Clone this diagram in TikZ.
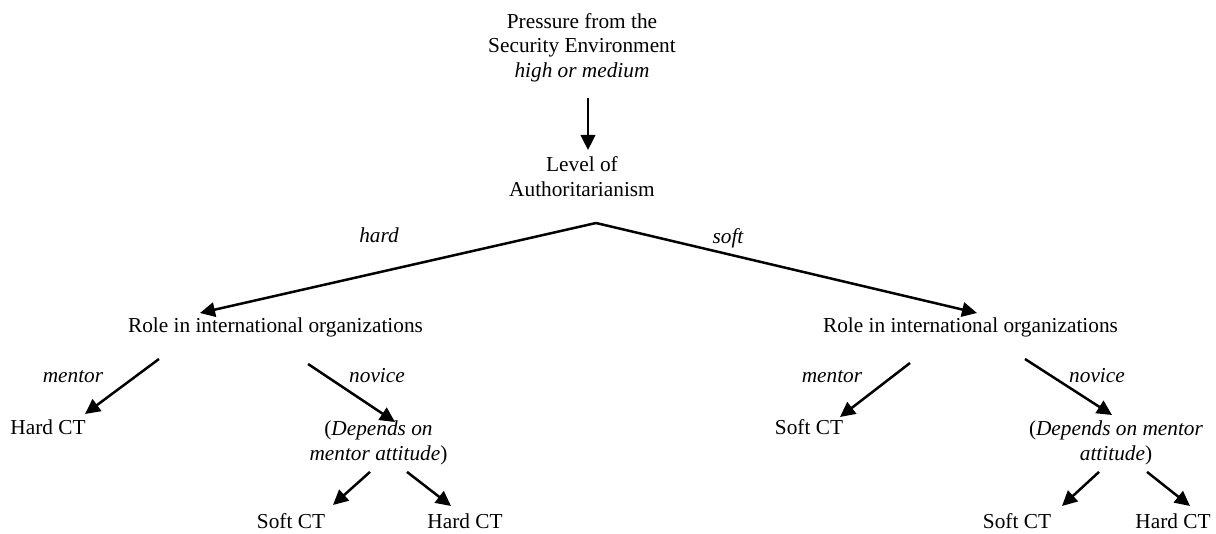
\documentclass[tikz,border=0pt]{standalone}
\usepackage{fontspec}
\setmainfont{Liberation Serif}
\usetikzlibrary{arrows.meta}
\tikzset{
  txt/.style={inner sep=0pt, font=\fontsize{21.3}{24.8}\selectfont},
  mtxt/.style={txt, align=center, anchor=north},
  lbl/.style={txt, anchor=base, font=\fontsize{21.3}{24.8}\selectfont\itshape},
  arr/.style={line width=2.5pt, -{Triangle[length=15pt,width=14.5pt]}},
  plain/.style={line width=2.5pt}
}
\begin{document}
\begin{tikzpicture}[x=1pt,y=-1pt]
\useasboundingbox (0,0) rectangle (1216,534);

% top
\node[mtxt] (press) at (582,13) {Pressure from the\\Security Environment\\\textit{high or medium}};
\node[mtxt] (lvl) at (582,156.5) {Level of\\Authoritarianism};
\coordinate (apex) at (596,223);

% second level
\node[txt, anchor=base] (roleL) at (275.5,333) {Role in international organizations};
\node[txt, anchor=base] (roleR) at (970.5,333) {Role in international organizations};
\node[lbl] (lhard) at (379,243) {hard};
\node[lbl] (lsoft) at (728,244) {soft};

% third level
\node[lbl] (lmentL) at (73,383) {mentor};
\node[lbl] (lnovL) at (377,383) {novice};
\node[lbl] (lmentR) at (832,383) {mentor};
\node[lbl] (lnovR) at (1097,383) {novice};
\node[txt, anchor=base] (hardL) at (48,435) {Hard CT};
\node[txt, anchor=base] (softR) at (809,435) {Soft CT};
\node[mtxt] (depL) at (378.5,421) {(\textit{Depends on}\\\textit{mentor attitude})};
\node[mtxt] (depR) at (1116,421) {(\textit{Depends on mentor}\\\textit{attitude})};

% bottom
\node[txt, anchor=base] (softLL) at (291,528) {Soft CT};
\node[txt, anchor=base] (hardLL) at (465,528) {Hard CT};
\node[txt, anchor=base] (softRR) at (1017,528) {Soft CT};
\node[txt, anchor=base] (hardRR) at (1173,528) {Hard CT};

% connectors
\draw[arr] ([xshift=6pt,yshift=-15pt]press.south) -- ([xshift=6pt,yshift=6.5pt]lvl.north);
\draw[arr] (apex) -- ([xshift=-75.5pt,yshift=20pt]roleL.base);
\draw[arr] (apex) -- ([xshift=6.5pt,yshift=20pt]roleR.base);

\draw[arr] ([xshift=-116.5pt,yshift=-26pt]roleL.base) -- ([xshift=37pt,yshift=21pt]hardL.base);
\draw[arr] ([xshift=32.5pt,yshift=-31pt]roleL.base) -- ([xshift=16.5pt,yshift=-1pt]depL.north);
\draw[arr] ([xshift=-60.5pt,yshift=-30pt]roleR.base) -- ([xshift=31pt,yshift=18pt]softR.base);
\draw[arr] ([xshift=54.5pt,yshift=-26pt]roleR.base) -- ([xshift=-4pt,yshift=6pt]depR.north);

\draw[arr] ([xshift=-8.5pt,yshift=-6.4pt]depL.south) -- ([xshift=42pt,yshift=23pt]softLL.base);
\draw[arr] ([xshift=28.5pt,yshift=-6.4pt]depL.south) -- ([xshift=-14pt,yshift=22pt]hardLL.base);
\draw[arr] ([xshift=-17pt,yshift=-6.4pt]depR.south) -- ([xshift=45pt,yshift=22pt]softRR.base);
\draw[arr] ([xshift=31pt,yshift=-6.4pt]depR.south) -- ([xshift=17pt,yshift=22pt]hardRR.base);
\end{tikzpicture}
\end{document}
